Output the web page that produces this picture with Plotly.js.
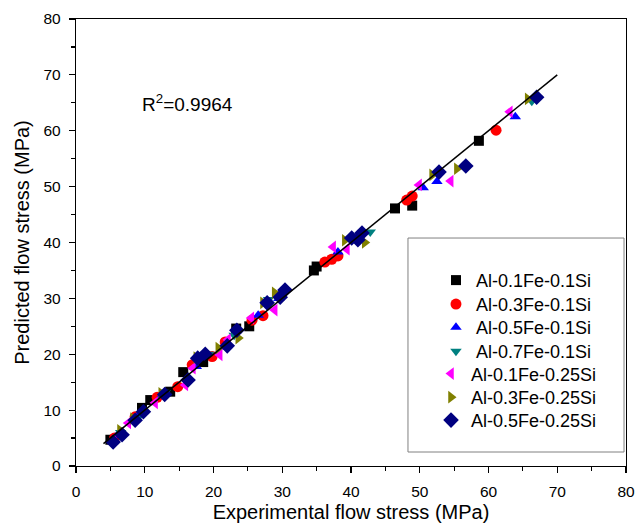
<!DOCTYPE html>
<html>
<head>
<meta charset="utf-8">
<script src="https://cdn.plot.ly/plotly-3.0.1.min.js"></script>
<style>html,body{margin:0;padding:0;background:#fff;}#chart{width:635px;height:525px;}</style>
</head>
<body>
<div id="chart"></div>
<script>
// Series names
const seriesNames = ["Al-0.1Fe-0.1Si","Al-0.3Fe-0.1Si","Al-0.5Fe-0.1Si","Al-0.7Fe-0.1Si","Al-0.1Fe-0.25Si","Al-0.3Fe-0.25Si","Al-0.5Fe-0.25Si"];

// Al-0.1Fe-0.1Si
const exp01Fe01Si = [5.0, 9.6, 10.8, 13.7, 15.6, 18.5, 23.3, 25.2, 34.6, 35.0, 46.4, 48.9, 58.6];
const pred01Fe01Si = [4.7, 10.4, 11.8, 13.3, 16.8, 18.6, 24.6, 25.0, 35.0, 35.7, 46.1, 46.6, 58.2];
// Al-0.3Fe-0.1Si
const exp03Fe01Si = [5.6, 8.6, 11.8, 14.8, 16.9, 19.8, 21.7, 25.6, 27.2, 36.2, 37.2, 38.1, 48.1, 48.9, 61.1];
const pred03Fe01Si = [5.0, 8.8, 12.3, 14.2, 18.1, 19.6, 22.2, 26.1, 26.9, 36.5, 37.0, 37.6, 47.6, 48.3, 60.1];
// Al-0.5Fe-0.1Si
const exp05Fe01Si = [6.0, 9.2, 12.5, 17.5, 21.5, 26.5, 29.5, 38.1, 41.0, 50.5, 52.5, 63.9];
const pred05Fe01Si = [5.5, 9.2, 12.6, 17.8, 21.3, 27.0, 30.0, 38.3, 41.0, 49.8, 50.9, 62.5];
// Al-0.7Fe-0.1Si
const exp07Fe01Si = [6.5, 9.0, 13.0, 19.3, 23.0, 28.0, 30.0, 42.8, 66.3];
const pred07Fe01Si = [6.0, 8.6, 13.2, 20.0, 23.4, 29.8, 30.8, 41.9, 65.3];
// Al-0.1Fe-0.25Si
const exp01Fe025Si = [5.5, 7.6, 11.5, 15.9, 17.0, 20.9, 22.1, 25.5, 28.9, 37.4, 39.4, 49.9, 54.5, 63.1];
const pred01Fe025Si = [4.8, 7.7, 11.3, 14.5, 17.5, 19.9, 22.6, 26.5, 27.9, 39.2, 38.8, 50.3, 51.0, 63.4];
// Al-0.3Fe-0.25Si
const exp03Fe025Si = [6.4, 8.3, 12.4, 17.5, 20.7, 23.6, 27.2, 28.9, 39.1, 42.0, 51.8, 55.4, 65.7];
const pred03Fe025Si = [6.4, 8.5, 13.0, 19.4, 21.1, 22.9, 29.2, 31.0, 40.4, 40.0, 52.1, 53.2, 65.7];
// Al-0.5Fe-0.25Si
const exp05Fe025Si = [5.4, 6.7, 8.6, 9.8, 12.9, 16.3, 17.7, 18.8, 22.0, 23.4, 27.8, 29.7, 30.4, 40.1, 41.0, 41.6, 52.8, 56.7, 67.0];
const pred05Fe025Si = [4.3, 5.6, 8.2, 9.7, 12.8, 15.4, 19.3, 20.0, 21.5, 24.3, 29.2, 30.2, 31.5, 40.8, 40.5, 41.7, 52.6, 53.7, 66.0];

// Fit line
const fitX = [4, 70];
const fitY = [4, 70];

const tickValues = [0, 10, 20, 30, 40, 50, 60, 70, 80];

const expData = [exp01Fe01Si, exp03Fe01Si, exp05Fe01Si, exp07Fe01Si, exp01Fe025Si, exp03Fe025Si, exp05Fe025Si];
const predData = [pred01Fe01Si, pred03Fe01Si, pred05Fe01Si, pred07Fe01Si, pred01Fe025Si, pred03Fe025Si, pred05Fe025Si];
const colors = ["#000000", "#ff0000", "#0000ff", "#008080", "#ff00ff", "#808000", "#000080"];
const symbols = ["square", "circle", "triangle-up", "triangle-down", "triangle-left", "triangle-right", "diamond"];
const sizes = [10, 11, 10, 10, 11, 11, 12];

const legendIds = ["legend", "legend2", "legend3", "legend4", "legend5", "legend6", "legend7"];

const traces = seriesNames.map((n, i) => ({
  x: expData[i], y: predData[i], name: n, type: "scatter", mode: "markers",
  legend: legendIds[i],
  marker: {color: colors[i], symbol: symbols[i], size: sizes[i], line: {width: 0}}
}));
traces.push({x: fitX, y: fitY, type: "scatter", mode: "lines", showlegend: false,
  line: {color: "#000000", width: 1.5}, hoverinfo: "skip"});

const axisCommon = {
  range: [0, 80], ticks: "outside", ticklen: 6, tickwidth: 1.2,
  tickcolor: "#000", showline: true, linecolor: "#000", linewidth: 1.2, mirror: true,
  showgrid: false, zeroline: false,
  minor: {dtick: 5, tick0: 0, ticks: "outside", ticklen: 4, tickcolor: "#000", tickwidth: 1.2, showgrid: false},
  tickfont: {family: "Liberation Sans, Arial, sans-serif", size: 15.5, color: "#000"}
};

const legendX = [0.6545, 0.6545, 0.6545, 0.6545, 0.6455, 0.6455, 0.6455];
const legendY = [0.4152, 0.3615, 0.3100, 0.2563, 0.2060, 0.1534, 0.1020];

const layout = {
  width: 635, height: 525,
  margin: {l: 76, r: 9, t: 19, b: 59},
  paper_bgcolor: "#fff", plot_bgcolor: "#fff",
  font: {family: "Liberation Sans, Arial, sans-serif", color: "#000"},
  xaxis: Object.assign({}, axisCommon, {tickvals: tickValues, ticklabelstandoff: 5,
    title: {text: "Experimental flow stress (MPa)", font: {size: 20, color: "#000"}, standoff: 6}}),
  yaxis: Object.assign({}, axisCommon, {tickvals: tickValues, ticklabelstandoff: 5,
    title: {text: "Predicted flow stress (MPa)", font: {size: 20, color: "#000"}, standoff: 8}}),
  showlegend: true,
  shapes: [{type: "rect", xref: "paper", yref: "paper", x0: 0.6036, x1: 0.9964, y0: 0.0313, y1: 0.510,
    line: {color: "#808080", width: 1}, fillcolor: "rgba(0,0,0,0)"}],
  annotations: [{xref: "x", yref: "y", x: 9.3, y: 65, xanchor: "left", yanchor: "middle",
    text: "R<sup>2</sup>=0.9964", showarrow: false, font: {size: 19, color: "#000"}}]
};
legendIds.forEach((id, i) => {
  layout[id] = {x: legendX[i], y: legendY[i], xanchor: "left", yanchor: "middle",
    bgcolor: "rgba(0,0,0,0)", borderwidth: 0, font: {size: 18, color: "#000"}};
});

Plotly.newPlot("chart", traces, layout, {displayModeBar: false, staticPlot: true});
</script>
</body>
</html>
